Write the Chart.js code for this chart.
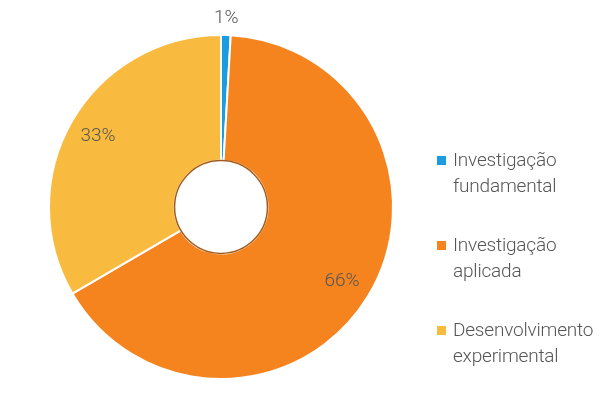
<!DOCTYPE html>
<html>
<head>
<meta charset="utf-8">
<script src="https://cdn.jsdelivr.net/npm/chart.js@4/dist/chart.umd.min.js"></script>
<style>
    html, body { margin: 0; padding: 0; background: #fff; }
    #wrap { position: relative; width: 600px; height: 393px; }
    #chart { position: absolute; left: 0; top: 0; }
    #legend { position: absolute; left: 437px; top: 147px; font-family: Roboto, sans-serif; font-weight: 300; font-size: 19px; color: #555; letter-spacing: -0.2px; }
    .item { position: relative; padding-left: 16px; line-height: 26px; margin-bottom: 33px; }
    .box { position: absolute; left: 0; top: 9px; width: 9px; height: 9px; }
</style>
</head>
<body>
<div id="wrap">
    <canvas id="chart" width="442" height="393"></canvas>
    <div id="legend"></div>
</div>
<script>
var categories = [['Investigação', 'fundamental'], ['Investigação', 'aplicada'], ['Desenvolvimento', 'experimental']];
var shares = [0.9, 65.7, 33.4];
var colours = ['#1b9be0', '#f5841f', '#f9bb3f'];

// percent labels on / above the slices
var sliceLabels = {
    id: 'sliceLabels',
    afterDatasetsDraw: function (chart) {
        var ctx = chart.ctx;
        var meta = chart.getDatasetMeta(0);
        var total = shares.reduce(function (a, b) { return a + b; }, 0);
        ctx.save();
        // inner ring
        var a0 = meta.data[0];
        ctx.beginPath();
        ctx.arc(a0.x, a0.y, a0.innerRadius, 0, Math.PI * 2);
        ctx.strokeStyle = '#a35b1c';
        ctx.lineWidth = 1.5;
        ctx.stroke();

        ctx.font = '300 19px Roboto, sans-serif';
        ctx.fillStyle = '#555';
        ctx.textAlign = 'center';
        ctx.textBaseline = 'middle';
        meta.data.forEach(function (arc, i) {
            var pct = Math.round(shares[i] / total * 100);
            var mid = (arc.startAngle + arc.endAngle) / 2;
            var r = pct < 5 ? arc.outerRadius + 17 : arc.outerRadius * 0.825;
            ctx.fillText(pct + '%', arc.x + Math.cos(mid) * r, arc.y + Math.sin(mid) * r);
        });
        ctx.restore();
    }
};

var chart = new Chart(document.getElementById('chart'), {
    type: 'doughnut',
    data: {
        labels: categories,
        datasets: [{
            data: shares,
            backgroundColor: colours,
            borderColor: '#fff',
            borderWidth: 2
        }]
    },
    options: {
        responsive: false,
        animation: false,
        cutout: '27%',
        layout: { padding: { top: 34, bottom: 13, left: 48, right: 48 } },
        plugins: {
            legend: { display: false },
            tooltip: { enabled: false }
        }
    },
    plugins: [sliceLabels]
});

// html legend built from the chart data
var legend = document.getElementById('legend');
categories.forEach(function (lines, i) {
    var item = document.createElement('div');
    item.className = 'item';
    item.innerHTML = '<span class="box" style="background:' + colours[i] + '"></span>' + lines.join('<br>');
    legend.appendChild(item);
});
</script>
</body>
</html>
